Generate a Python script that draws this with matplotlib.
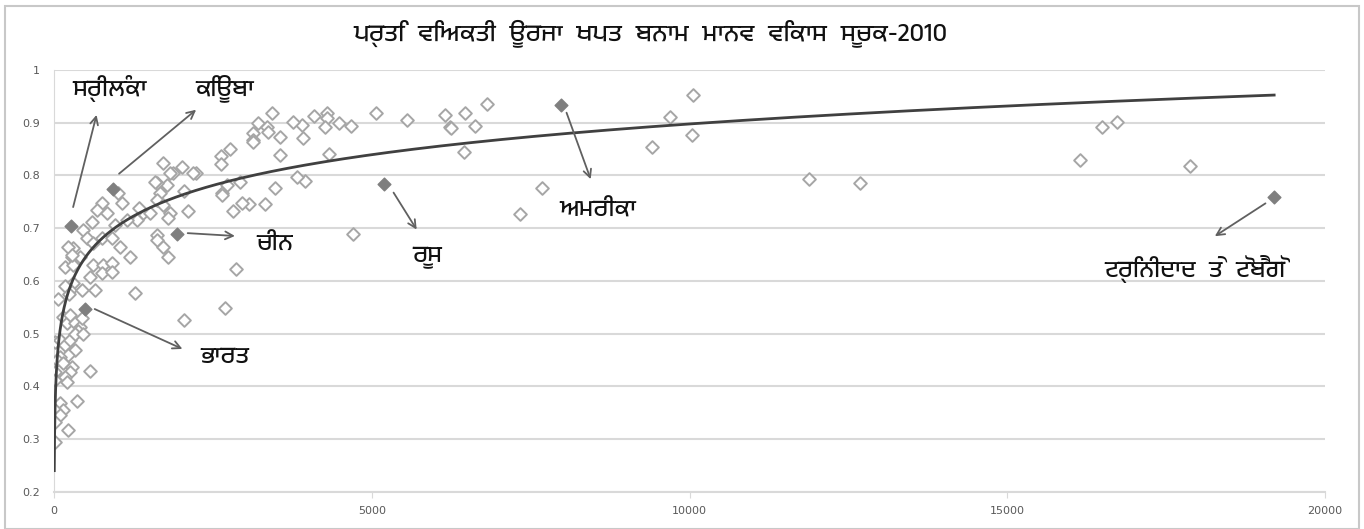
import matplotlib
matplotlib.use("Agg")
import matplotlib.pyplot as plt
import numpy as np
from matplotlib import font_manager
from matplotlib.ft2font import FT2Font
from matplotlib.patches import Rectangle

# Per-capita energy use (x) vs HDI 2010 (y) -- open diamonds
energy = [16150, 16490, 16720, 17880, 11880, 12690, 10050, 9690, 10040, 9410,
          7680, 7330, 6810, 6470, 6620, 6450, 6230, 5070, 5550, 6150, 6245,
          4700, 4330, 3950, 3820, 4090, 4290, 4290, 4260, 4480, 4670, 3920,
          3900, 3760, 3560, 3430, 3210, 3350, 3130, 3130, 3370, 3560, 3480,
          3320, 3070, 2960, 2810, 2930, 2720, 2650, 2770, 2630, 2630, 2110,
          2050, 2230, 2010, 1870, 1720, 1830, 1780, 1620, 1670, 1830, 1400,
          1620, 1340, 1300, 1620, 1620, 1720, 1800, 2870, 2690, 2050, 1270,
          570, 360, 220, 70, 3130, 2640, 2190, 1800, 1590, 1720, 1010, 1070,
          1510, 755, 675, 830, 600, 960, 1150, 460, 520, 610, 750, 910, 1040,
          1200, 300, 280, 410, 170, 300, 610, 770, 910, 750, 910, 570, 300,
          250, 440, 640, 140, 200, 250, 330, 410, 440, 15, 95, 170, 250, 330,
          220, 95, 45, 140, 280, 250, 170, 200, 15, 10, 95, 140, 15, 4, 95,
          15, 15, 220, 280, 380, 330, 460, 180, 230]
hdi = [0.829, 0.892, 0.901, 0.818, 0.793, 0.786, 0.953, 0.910, 0.877, 0.854,
       0.777, 0.727, 0.936, 0.918, 0.894, 0.845, 0.892, 0.918, 0.905, 0.915,
       0.890, 0.689, 0.840, 0.790, 0.797, 0.913, 0.918, 0.909, 0.892, 0.900,
       0.894, 0.871, 0.896, 0.901, 0.873, 0.918, 0.900, 0.892, 0.880, 0.867,
       0.883, 0.839, 0.776, 0.746, 0.746, 0.747, 0.733, 0.788, 0.782, 0.767,
       0.850, 0.836, 0.822, 0.733, 0.771, 0.804, 0.817, 0.804, 0.823, 0.805,
       0.782, 0.786, 0.766, 0.728, 0.728, 0.753, 0.738, 0.716, 0.687, 0.678,
       0.665, 0.646, 0.622, 0.549, 0.526, 0.578, 0.430, 0.373, 0.318, 0.566,
       0.864, 0.763, 0.804, 0.720, 0.788, 0.744, 0.767, 0.748, 0.729, 0.748,
       0.735, 0.729, 0.712, 0.706, 0.716, 0.697, 0.681, 0.672, 0.681, 0.681,
       0.664, 0.645, 0.662, 0.645, 0.645, 0.627, 0.630, 0.630, 0.630, 0.634,
       0.615, 0.617, 0.608, 0.596, 0.583, 0.583, 0.583, 0.532, 0.520, 0.536,
       0.520, 0.513, 0.530, 0.484, 0.488, 0.479, 0.488, 0.469, 0.460, 0.456,
       0.450, 0.444, 0.437, 0.428, 0.418, 0.409, 0.428, 0.412, 0.369, 0.355,
       0.355, 0.342, 0.346, 0.333, 0.295, 0.665, 0.649, 0.505, 0.500, 0.500,
       0.590, 0.575]

# highlighted countries (filled diamonds)
hl_names = ["ਸ੍ਰੀਲੰਕਾ", "ਕਿਊਬਾ", "ਚੀਨ", "ਭਾਰਤ", "ਰੂਸ", "ਅਮਰੀਕਾ",
            "ਟ੍ਰਿਨੀਦਾਦ  ਤੇ  ਟੋਬੈਗੋ"]
hl_energy = [262, 930, 1930, 490, 5200, 7980, 19190]
hl_hdi = [0.704, 0.774, 0.690, 0.547, 0.783, 0.933, 0.759]
# arrow tail / head and label position, in data units
arrow_from = [(290, 0.735), (990, 0.800), (2060, 0.691), (600, 0.549),
              (5320, 0.772), (8050, 0.924), (19100, 0.750)]
arrow_to = [(680, 0.920), (2270, 0.928), (2890, 0.685), (2060, 0.469),
            (5730, 0.693), (8460, 0.788), (18230, 0.682)]
label_pos = [(880, 0.966), (2690, 0.966), (3480, 0.672), (2690, 0.456),
             (5880, 0.644), (8560, 0.735), (17950, 0.625)]

# logarithmic trendline as shown on the chart: y = slope*ln(x) + intercept
trend_slope = 0.084
trend_intercept = 0.124
trend_range = (4, 19200)

title = "ਪ੍ਰਤਿ  ਵਿਅਕਤੀ  ਊਰਜਾ  ਖਪਤ  ਬਨਾਮ  ਮਾਨਵ  ਵਿਕਾਸ  ਸੂਚਕ-2010"


def find_family(ch):
    # look for an installed font that covers the script, proportional first
    found = []
    for f in font_manager.fontManager.ttflist:
        try:
            if ord(ch) in FT2Font(f.fname).get_charmap():
                found.append(f.name)
        except Exception:
            pass
    found.sort(key=lambda n: ("mono" in n.lower(), n))
    return found[0] if found else None


gur = find_family("ਪ")
fam = [gur, "DejaVu Sans"] if gur else ["DejaVu Sans"]

fig = plt.figure(figsize=(13.64, 5.29), dpi=100)
ax = fig.add_axes([0.0396, 0.070, 0.9318, 0.7977])
fig.patches.append(Rectangle((0.004, 0.0), 0.992, 0.988, transform=fig.transFigure,
                             fill=False, edgecolor="#c8c8c8", linewidth=1.5))

tx = np.geomspace(trend_range[0], trend_range[1], 2000)

ax.scatter(energy, hdi, marker="D", s=42, facecolors="white",
           edgecolors="#a6a6a6", linewidths=1.4, zorder=3)
ax.scatter(hl_energy, hl_hdi, marker="D", s=42, color="#7f7f7f", zorder=4)
ax.plot(tx, trend_slope * np.log(tx) + trend_intercept, color="#404040",
        lw=2, zorder=5)

for name, p0, p1, lp in zip(hl_names, arrow_from, arrow_to, label_pos):
    ax.annotate("", xy=p1, xytext=p0,
                arrowprops=dict(arrowstyle="->", color="#606060", lw=1.3,
                                mutation_scale=14), zorder=6)
    ax.text(lp[0], lp[1], name, family=fam, fontsize=17.5, ha="center",
            va="center", color="#111111", zorder=7)

ax.set_xlim(0, 20000)
ax.set_ylim(0.2, 1.0)
ax.set_xticks([0, 5000, 10000, 15000, 20000])
ax.set_yticks(np.arange(0.2, 1.01, 0.1))
ax.set_yticklabels(["0.2", "0.3", "0.4", "0.5", "0.6", "0.7", "0.8", "0.9", "1"])
ax.tick_params(axis="both", labelsize=8, colors="#595959", length=0, pad=10)
ax.tick_params(axis="x", length=4, color="#d9d9d9", direction="out", pad=6)
ax.grid(axis="y", color="#d9d9d9", lw=1.5)
ax.set_axisbelow(True)
for s in ["top", "right"]:
    ax.spines[s].set_visible(False)
ax.spines["left"].set_color("#d9d9d9")
ax.spines["bottom"].set_color("#d9d9d9")
ax.spines["bottom"].set_linewidth(1.5)

fig.text(0.477, 0.937, title, family=fam, fontsize=18, ha="center",
         va="center", color="#111111")

fig.savefig("out.png", dpi=100)
